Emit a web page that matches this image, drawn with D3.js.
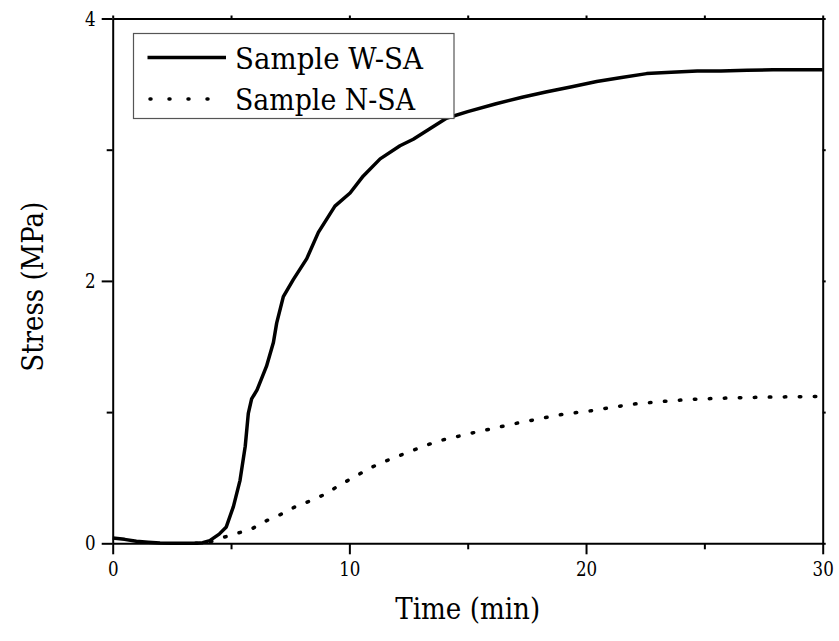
<!DOCTYPE html>
<html>
<head>
<meta charset="utf-8">
<script src="https://cdn.jsdelivr.net/npm/d3@7"></script>
<style>
  body { margin: 0; background: #fff; }
</style>
</head>
<body>
<div id="chart"></div>
<script>
// Sample W-SA (solid line)
const wTime = [0, 0.5, 1, 1.5, 2, 2.5, 3, 3.5, 3.8, 4.1, 4.5, 4.8, 5.1, 5.38, 5.6, 5.73, 5.87, 6.1, 6.5, 6.79, 6.93, 7.21, 7.63, 8.2, 8.69, 9.39, 10.03, 10.59, 11.3, 12.14, 12.7, 13.4, 14.1, 15, 16.2, 17.3, 18.3, 19.4, 20.45, 21.5, 22.56, 23.6, 24.7, 25.7, 26.8, 27.9, 29, 30];
const wStress = [0.04, 0.03, 0.015, 0.008, 0.003, 0, 0, 0, 0.005, 0.02, 0.07, 0.125, 0.28, 0.48, 0.74, 0.99, 1.1, 1.17, 1.35, 1.53, 1.68, 1.88, 2.01, 2.17, 2.37, 2.57, 2.67, 2.8, 2.93, 3.03, 3.08, 3.16, 3.24, 3.29, 3.35, 3.4, 3.44, 3.48, 3.52, 3.55, 3.58, 3.59, 3.6, 3.6, 3.605, 3.61, 3.61, 3.61];

// Sample N-SA (dotted line)
const nTime = [3.5, 4.0, 4.6, 5.1, 5.78, 6.47, 7.1, 7.73, 8.44, 9.04, 9.63, 10.17, 10.73, 11.29, 12.0, 13.0, 13.76, 15.17, 16.93, 18.9, 20.2, 21.93, 23.47, 24.74, 26.5, 28, 30];
const nStress = [0, 0.005, 0.04, 0.07, 0.1, 0.17, 0.22, 0.28, 0.33, 0.38, 0.45, 0.5, 0.56, 0.61, 0.66, 0.73, 0.78, 0.84, 0.91, 0.98, 1.01, 1.06, 1.085, 1.1, 1.11, 1.115, 1.12];

const xTicks = [0, 10, 20, 30];
const xMinor = [5, 15, 25];
const yTicks = [0, 2, 4];
const yMinor = [1, 3];

const seriesNames = ["Sample W-SA", "Sample N-SA"];

const W = 839, H = 641;
const plotLeft = 112.7, plotRight = 822.7, plotTop = 18.5, plotBottom = 543.3;
// Times-like serif is not available here, so DejaVu Serif squeezed to Times widths
const serif = "DejaVu Serif";

const svg = d3.select("#chart").append("svg")
  .attr("width", W)
  .attr("height", H);

const x = d3.scaleLinear().domain([0, 30]).range([plotLeft, plotRight]);
const y = d3.scaleLinear().domain([0, 4]).range([plotBottom, plotTop]);

const toPoints = (ts, vs) => ts.map((t, i) => ({ t: t, v: vs[i] }));
const line = d3.line().x((d) => x(d.t)).y((d) => y(d.v));

// Curves
svg.append("path")
  .datum(toPoints(nTime, nStress))
  .attr("d", line)
  .attr("fill", "none")
  .attr("stroke", "#000")
  .attr("stroke-width", 3.5)
  .attr("stroke-linecap", "round")
  .attr("stroke-dasharray", "1.5,13.5");

svg.append("path")
  .datum(toPoints(wTime, wStress))
  .attr("d", line)
  .attr("fill", "none")
  .attr("stroke", "#000")
  .attr("stroke-width", 3.5)
  .attr("stroke-linejoin", "round");

// Bottom axis with major and minor ticks
const gx = svg.append("g").attr("transform", `translate(0,${plotBottom})`);
gx.call(d3.axisBottom(x).tickValues(xTicks).tickSize(11).tickSizeOuter(0).tickPadding(7).tickFormat(d3.format("d")));
gx.append("g").call(d3.axisBottom(x).tickValues(xMinor).tickSize(6).tickFormat(""))
  .select(".domain").remove();

// Left axis with major and minor ticks
const gy = svg.append("g").attr("transform", `translate(${plotLeft},0)`);
gy.call(d3.axisLeft(y).tickValues(yTicks).tickSize(11).tickSizeOuter(0).tickPadding(6).tickFormat(d3.format("d")));
gy.append("g").call(d3.axisLeft(y).tickValues(yMinor).tickSize(6).tickFormat(""))
  .select(".domain").remove();

// Top and right frame with small ticks
const gt = svg.append("g").attr("transform", `translate(0,${plotTop})`);
gt.call(d3.axisTop(x).tickValues(xTicks.concat(xMinor)).tickSize(3).tickSizeOuter(0).tickFormat(""));
const gr = svg.append("g").attr("transform", `translate(${plotRight},0)`);
gr.call(d3.axisRight(y).tickValues(yTicks.concat(yMinor)).tickSize(3).tickSizeOuter(0).tickFormat(""));

svg.selectAll(".domain").attr("stroke", "#000").attr("stroke-width", 2);
svg.selectAll(".tick line").attr("stroke", "#000").attr("stroke-width", 2);
svg.selectAll(".tick text")
  .attr("font-family", serif)
  .attr("font-size", 20.5)
  .attr("fill", "#000")
  .attr("textLength", function () { return this.textContent.length * 10.6; })
  .attr("lengthAdjust", "spacingAndGlyphs");

// Axis titles
svg.append("text")
  .attr("x", (plotLeft + plotRight) / 2)
  .attr("y", 619)
  .attr("text-anchor", "middle")
  .attr("font-family", serif)
  .attr("font-size", 29)
  .attr("textLength", 145)
  .attr("lengthAdjust", "spacingAndGlyphs")
  .text("Time (min)");

svg.append("text")
  .attr("transform", "translate(43,286.7) rotate(-90)")
  .attr("text-anchor", "middle")
  .attr("font-family", serif)
  .attr("font-size", 29)
  .attr("textLength", 170)
  .attr("lengthAdjust", "spacingAndGlyphs")
  .text("Stress (MPa)");

// Legend
const lg = svg.append("g");
lg.append("rect")
  .attr("x", 133.5)
  .attr("y", 33.5)
  .attr("width", 320.5)
  .attr("height", 85)
  .attr("fill", "#fff")
  .attr("stroke", "#555")
  .attr("stroke-width", 1.2);

const legendRows = [
  { name: seriesNames[0], y: 57.5, dash: null, width: 188 },
  { name: seriesNames[1], y: 99, dash: "1,18", width: 180 }
];
legendRows.forEach((r) => {
  const l = lg.append("line")
    .attr("x1", r.dash ? 150 : 147.5)
    .attr("x2", r.dash ? 208 : 226)
    .attr("y1", r.y)
    .attr("y2", r.y)
    .attr("stroke", "#000")
    .attr("stroke-width", 3.5);
  if (r.dash) l.attr("stroke-dasharray", r.dash).attr("stroke-linecap", "round");
  lg.append("text")
    .attr("x", 235)
    .attr("y", r.y + 11)
    .attr("font-family", serif)
    .attr("font-size", 29)
    .attr("textLength", r.width)
    .attr("lengthAdjust", "spacingAndGlyphs")
    .text(r.name);
});
</script>
</body>
</html>
